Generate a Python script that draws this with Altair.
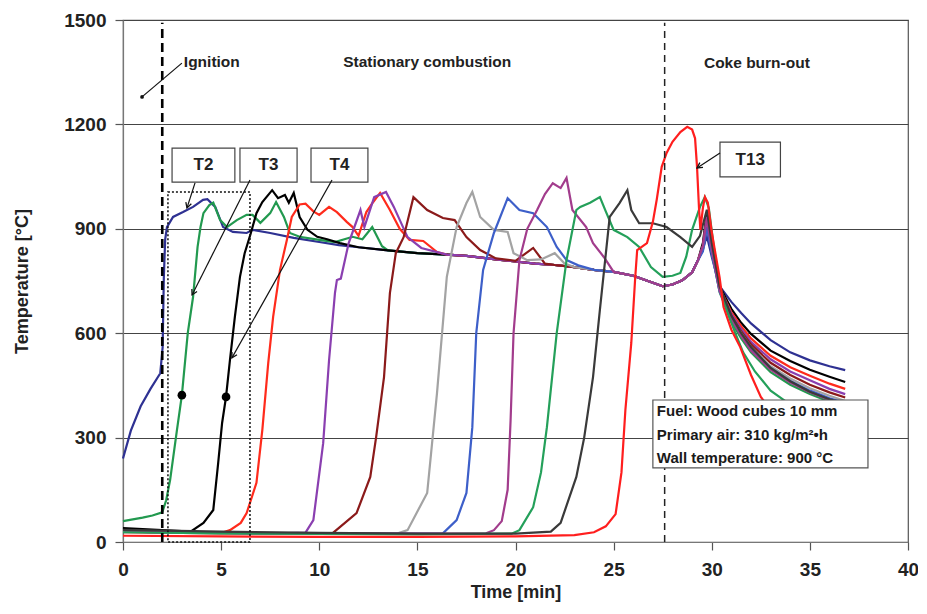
import math
import altair as alt
import pandas as pd

FONT = "Liberation Sans"

SERIES = ["T2", "T3", "T4", "T5", "T6", "T7", "T8", "T9", "T10", "T11", "T12", "T13"]
COLORS = ["#2E3192", "#22994F", "#000000", "#FF2B1C", "#8A3FB0", "#8B1A1A",
          "#A3A3A3", "#3D5FC9", "#A23C8C", "#24A05A", "#3A3A3A", "#FF1E1E"]

# shared stationary-combustion plateau (all thermocouples merge onto it)
COMMON_T = [5.6, 6.3, 6.6, 7.5, 8.7, 10.0, 11.0, 12.0, 13.5, 15.0, 16.5, 17.5, 19.0, 20.0,
            21.0, 22.0, 23.0, 24.0, 25.0, 26.0, 27.0, 27.5, 28.0, 28.5, 29.0, 29.3]
COMMON_V = [891, 888, 897, 888, 874, 862, 853, 847, 838, 830, 826, 822, 812, 806,
            800, 796, 790, 782, 776, 765, 745, 735, 740, 752, 775, 810]

# coke burn-out peak and cooling
TAIL_T = [29.55, 29.75, 30.0, 30.4, 31.0, 31.5, 32.0, 33.0, 34.0, 35.0, 36.0, 36.8]

T2_T = [0, 0.4, 0.9, 1.4, 1.9, 2.02, 2.08, 2.15, 2.24, 2.55, 3.06, 3.57, 4.08, 4.3, 4.7, 5.1]
T2_V = [240, 320, 390, 440, 485, 560, 760, 870, 905, 934, 948, 963, 983, 985, 963, 905]
T2_TAIL = [840, 880, 820, 735, 690, 658, 628, 580, 545, 522, 505, 494]

T3_T = [0, 0.5, 1.0, 1.5, 2.0, 2.2, 2.4, 2.75, 3.0, 3.3, 3.57, 3.8, 3.95, 4.1, 4.4, 4.6, 4.95,
        5.3, 5.8, 6.3, 6.6, 7.0, 7.5, 7.8, 8.2, 8.5, 9.0, 10.0, 10.8, 11.7, 12.2, 12.7, 13.2]
T3_V = [60, 65, 70, 76, 85, 120, 178, 322, 422, 600, 704, 848, 905, 945, 968, 975, 925,
        905, 925, 940, 940, 917, 945, 977, 934, 888, 877, 868, 862, 877, 870, 905, 850]
T3_TAIL = [845, 920, 835, 718, 632, 585, 545, 488, 452, 425, 403, 390]

T4_T = [0, 1, 2, 3, 3.5, 4.1, 4.6, 4.85, 5.05, 5.25, 5.45, 5.7, 5.96, 6.2, 6.5, 6.8, 7.1,
        7.6, 7.9, 8.25, 8.45, 8.7, 9.0, 9.4, 9.9, 10.4, 11.05]
T4_V = [40, 37, 34, 31, 32, 55, 92, 227, 342, 417, 523, 647, 762, 830, 885, 945, 977,
        1011, 988, 997, 975, 1003, 934, 897, 877, 870, 859]
T4_TAIL = [860, 948, 860, 735, 670, 630, 598, 550, 520, 495, 475, 460]

T5_T = [0, 2, 4, 5.0, 5.45, 6.0, 6.3, 6.8, 7.1, 7.4, 7.65, 8.0, 8.35, 8.6, 9.0, 9.3, 9.7,
        10.0, 10.5, 10.9, 11.4, 11.7, 12.0, 12.4, 12.75, 13.1, 13.6, 14.1, 14.6, 15.3, 16.0]
T5_V = [30, 28, 26, 26, 34, 55, 83, 170, 322, 514, 647, 782, 868, 934, 970, 972, 950,
        940, 963, 948, 920, 905, 880, 948, 977, 1003, 954, 900, 868, 865, 833]
T5_TAIL = [850, 930, 850, 730, 660, 620, 585, 535, 502, 478, 455, 440]

T6_T = [0, 4, 8, 9.3, 9.7, 10.2, 10.5, 10.8, 10.9, 11.1, 11.5, 12.1, 12.3, 12.8, 13.4, 13.8,
        14.5, 15.2]
T6_V = [30, 27, 25, 27, 63, 284, 523, 715, 753, 757, 859, 954, 905, 991, 1006, 963, 876, 845]
T6_TAIL = [850, 935, 845, 728, 655, 612, 575, 525, 490, 465, 440, 425]

T7_T = [0, 5, 10, 10.7, 11.9, 12.6, 12.9, 13.3, 13.6, 13.9, 14.3, 14.8, 15.5, 16.3, 16.9,
        17.5, 18.2, 19.0, 20.0, 20.9, 21.5]
T7_V = [28, 25, 24, 26, 83, 187, 302, 474, 715, 830, 876, 991, 954, 931, 925, 876, 839,
        815, 808, 845, 800]
T7_TAIL = [845, 925, 840, 725, 650, 605, 568, 515, 480, 452, 430, 415]

T8_T = [0, 5, 10, 14.0, 14.5, 15.5, 16.0, 16.5, 17.0, 17.5, 17.8, 18.2, 18.9, 19.6, 19.9,
        20.6, 21.3, 22.0, 22.5]
T8_V = [30, 26, 24, 25, 34, 141, 428, 762, 905, 974, 1006, 934, 897, 891, 830, 810, 812,
        830, 800]
T8_TAIL = [840, 910, 835, 722, 645, 600, 560, 505, 470, 442, 420, 405]

T9_T = [0, 5, 10, 16.3, 17.0, 17.5, 17.8, 18.0, 18.35, 18.9, 19.6, 20.2, 20.9, 21.6, 22.1,
        22.6, 23.2]
T9_V = [30, 26, 24, 25, 63, 141, 330, 600, 782, 888, 988, 954, 945, 905, 848, 810, 795]
T9_TAIL = [835, 905, 830, 720, 640, 595, 555, 500, 463, 435, 413, 400]

T10_T = [0, 5, 10, 18.5, 18.9, 19.3, 19.6, 19.75, 19.9, 20.2, 20.6, 21.1, 21.5, 21.9, 22.3,
         22.6, 22.9, 23.6, 23.95, 24.5]
T10_V = [30, 26, 24, 25, 34, 60, 150, 350, 600, 810, 900, 954, 1000, 1031, 1017, 1046,
         954, 905, 859, 819]
T10_TAIL = [850, 930, 840, 722, 640, 592, 550, 495, 458, 430, 408, 395]

T11_T = [0, 5, 10, 15, 19.8, 20.2, 20.9, 21.3, 21.6, 22.1, 22.6, 23.1, 23.3, 23.8, 24.3,
         24.6, 25.0, 25.7, 26.3, 26.9, 27.5, 28.0, 28.4, 28.7, 29.0, 29.4, 29.65, 29.85,
         30.1, 30.4, 30.8, 31.2, 31.6, 32.2, 33.0, 34.0, 35.0, 36.0, 36.8]
T11_V = [28, 25, 23, 22, 24, 34, 100, 200, 330, 600, 810, 954, 963, 975, 991,
         950, 897, 876, 848, 790, 762, 765, 773, 820, 897, 963, 991, 960,
         850, 740, 660, 600, 545, 490, 435, 395, 370, 350, 340]

T12_T = [0, 5, 10, 15, 20, 21.8, 22.3, 23.1, 23.5, 23.95, 24.3, 24.8, 25.3, 25.7, 25.9,
         26.3, 27.0, 27.7, 28.4, 29.0, 29.4, 29.75, 30.0, 30.4, 31.0, 31.5, 32.0, 33.0,
         34.0, 35.0, 36.0, 36.8]
T12_V = [35, 30, 26, 24, 24, 30, 55, 187, 300, 474, 667, 934, 974, 1011, 954,
         916, 916, 905, 876, 848, 880, 955, 860, 735, 650, 600, 560, 500,
         462, 432, 410, 398]

T13_T = [0, 5, 10, 15, 20, 23.0, 24.0, 24.6, 25.1, 25.4, 25.6, 25.9, 26.1, 26.2, 26.7,
         27.0, 27.2, 27.45, 27.7, 28.0, 28.4, 28.75, 29.0, 29.15, 29.25, 29.35, 29.42,
         29.55, 29.65, 29.8, 30.0, 30.4, 30.6, 31.0, 31.45, 32.0, 32.5, 33.0, 34.0,
         35.0, 36.0, 36.8]
T13_V = [18, 16, 15, 15, 16, 20, 28, 45, 80, 200, 380, 572, 760, 839, 859,
         920, 985, 1078, 1118, 1150, 1178, 1193, 1185, 1160, 1078, 960, 897,
         960, 991, 975, 890, 760, 675, 610, 560, 480, 417, 380, 340,
         315, 300, 290]

# annotations
PHASE_LABELS = ["Ignition", "Stationary combustion", "Coke burn-out"]
PHASE_X = [3.1, 15.5, 32.3]
PHASE_Y = [1380, 1378, 1376]
PHASE_ALIGN = ["left", "center", "center"]

LABEL_TEXT = ["T2", "T3", "T4", "T13"]
LABEL_X0 = [2.5, 5.96, 9.58, 30.42]
LABEL_X1 = [5.7, 8.87, 12.48, 33.5]
LABEL_Y0 = [1034, 1034, 1034, 1049]
LABEL_Y1 = [1132, 1132, 1132, 1149]
ARROW_X0 = [3.67, 6.47, 10.65, 30.42]
ARROW_Y0 = [1032, 1040, 1040, 1118]
ARROW_X1 = [3.26, 3.52, 5.55, 29.25]
ARROW_Y1 = [960, 710, 529, 1075]

DOT_X = [3.0, 5.25]
DOT_Y = [422, 417]

INFO_LINES = ["Fuel: Wood cubes 10 mm", "Primary air: 310 kg/m\u00b2\u2022h",
              "Wall temperature: 900 \u00b0C"]
INFO_Y = [376, 308, 242]
INFO_BOX = [27.0, 37.96, 213, 408]

IGN_X = 2.0
BURN_X = 27.6
DOT_RECT = [2.29, 6.47, 0, 1006]
IGN_POINTER = [0.97, 1279, 3.0, 1376]

W, H = 785, 522
PX_PER_MIN = W / 40.0
PX_PER_DEG = H / 1500.0


def build(head_t, head_v, tail_v=None):
    ts, vs = list(head_t), list(head_v)
    if tail_v is not None:
        last = ts[-1]
        for t, v in zip(COMMON_T, COMMON_V):
            if t > last + 0.2:
                ts.append(t)
                vs.append(v)
        ts += TAIL_T
        vs += tail_v
    return ts, vs


curves = [
    build(T2_T, T2_V, T2_TAIL), build(T3_T, T3_V, T3_TAIL), build(T4_T, T4_V, T4_TAIL),
    build(T5_T, T5_V, T5_TAIL), build(T6_T, T6_V, T6_TAIL), build(T7_T, T7_V, T7_TAIL),
    build(T8_T, T8_V, T8_TAIL), build(T9_T, T9_V, T9_TAIL), build(T10_T, T10_V, T10_TAIL),
    build(T11_T, T11_V), build(T12_T, T12_V), build(T13_T, T13_V),
]

xaxis = alt.Axis(title="Time [min]", values=list(range(0, 41, 5)), grid=False, format="d",
                 tickSize=8, labelPadding=10, titlePadding=4, labelFlush=False)
yaxis = alt.Axis(title="Temperature [\u00b0C]", values=list(range(0, 1501, 300)), grid=True,
                 format="d", tickSize=8, labelPadding=9, titlePadding=32, labelFlush=False)
xs = alt.Scale(domain=[0, 40], nice=False, zero=False)
ys = alt.Scale(domain=[0, 1500], nice=False, zero=False)


def X(f):
    return alt.X(f, type="quantitative", scale=xs, axis=xaxis)


def Y(f):
    return alt.Y(f, type="quantitative", scale=ys, axis=yaxis)


layers = []

for name, color, (ts, vs) in zip(SERIES, COLORS, curves):
    df = pd.DataFrame({"t": ts, "v": vs, "i": list(range(len(ts))), "s": name})
    layers.append(alt.Chart(df).mark_line(color=color, strokeWidth=2.2).encode(
        x=X("t"), y=Y("v"), order=alt.Order("i:Q")))

# vertical phase lines
vl = pd.DataFrame({"x": [IGN_X], "y0": [0], "y1": [1492]})
layers.append(alt.Chart(vl).mark_rule(color="black", strokeWidth=2.6, strokeDash=[9, 5]).encode(
    x=X("x"), y=Y("y0"), y2="y1"))
bl = pd.DataFrame({"x": [BURN_X], "y0": [0], "y1": [1492]})
layers.append(alt.Chart(bl).mark_rule(color="#222", strokeWidth=1.5, strokeDash=[7, 5]).encode(
    x=X("x"), y=Y("y0"), y2="y1"))

# dotted rectangle
dr = pd.DataFrame({"x0": [DOT_RECT[0]], "x1": [DOT_RECT[1]], "y0": [DOT_RECT[2]], "y1": [DOT_RECT[3]]})
layers.append(alt.Chart(dr).mark_rect(fillOpacity=0, stroke="#111", strokeWidth=1.5,
                                      strokeDash=[2, 2]).encode(
    x=X("x0"), x2="x1", y=Y("y0"), y2="y1"))

# ignition pointer
ip = pd.DataFrame({"x0": [IGN_POINTER[0]], "y0": [IGN_POINTER[1]],
                   "x1": [IGN_POINTER[2]], "y1": [IGN_POINTER[3]]})
layers.append(alt.Chart(ip).mark_rule(color="#111", strokeWidth=1.2).encode(
    x=X("x0"), y=Y("y0"), x2="x1", y2="y1"))
layers.append(alt.Chart(ip).mark_point(filled=True, color="#111", size=14, opacity=1).encode(
    x=X("x0"), y=Y("y0")))

# phase labels
ph = pd.DataFrame({"x": PHASE_X, "y": PHASE_Y, "txt": PHASE_LABELS, "al": PHASE_ALIGN})
for al in ["left", "center"]:
    sub = ph[ph["al"] == al]
    layers.append(alt.Chart(sub).mark_text(font=FONT, fontWeight="bold", fontSize=15.5,
                                           color="#222", align=al, baseline="middle").encode(
        x=X("x"), y=Y("y"), text="txt:N"))

# label boxes
lb = pd.DataFrame({"x0": LABEL_X0, "x1": LABEL_X1, "y0": LABEL_Y0, "y1": LABEL_Y1,
                   "txt": LABEL_TEXT,
                   "xc": [(a + b) / 2 for a, b in zip(LABEL_X0, LABEL_X1)],
                   "yc": [(a + b) / 2 for a, b in zip(LABEL_Y0, LABEL_Y1)]})
layers.append(alt.Chart(lb).mark_rect(fill="white", stroke="#444", strokeWidth=1.2).encode(
    x=X("x0"), x2="x1", y=Y("y0"), y2="y1"))
layers.append(alt.Chart(lb).mark_text(font=FONT, fontWeight="bold", fontSize=17, color="#222",
                                      align="center", baseline="middle").encode(
    x=X("xc"), y=Y("yc"), text="txt:N"))

# arrows
angles = []
for x0, y0, x1, y1 in zip(ARROW_X0, ARROW_Y0, ARROW_X1, ARROW_Y1):
    dx = (x1 - x0) * PX_PER_MIN
    dy = -(y1 - y0) * PX_PER_DEG
    angles.append(math.degrees(math.atan2(dx, -dy)) % 360)
ar = pd.DataFrame({"x0": ARROW_X0, "y0": ARROW_Y0, "x1": ARROW_X1, "y1": ARROW_Y1, "ang": angles})
layers.append(alt.Chart(ar).mark_rule(color="#111", strokeWidth=1.2).encode(
    x=X("x0"), y=Y("y0"), x2="x1", y2="y1"))
layers.append(alt.Chart(ar).mark_point(shape="M -0.55 1 L 0 0 L 0.55 1", filled=False,
                                       stroke="#111", strokeWidth=1.3, size=110, opacity=1).encode(
    x=X("x1"), y=Y("y1"), angle=alt.Angle("ang:Q", scale=None)))

# data dots
dd = pd.DataFrame({"x": DOT_X, "y": DOT_Y})
layers.append(alt.Chart(dd).mark_point(filled=True, color="black", size=75, opacity=1).encode(
    x=X("x"), y=Y("y")))

# info box
ib = pd.DataFrame({"x0": [INFO_BOX[0]], "x1": [INFO_BOX[1]], "y0": [INFO_BOX[2]], "y1": [INFO_BOX[3]]})
layers.append(alt.Chart(ib).mark_rect(fill="white", stroke="#555", strokeWidth=1.2).encode(
    x=X("x0"), x2="x1", y=Y("y0"), y2="y1"))
it = pd.DataFrame({"x": [INFO_BOX[0] + 0.2] * 3, "y": INFO_Y, "txt": INFO_LINES})
layers.append(alt.Chart(it).mark_text(font=FONT, fontWeight="bold", fontSize=15, color="#1a1a1a",
                                      align="left", baseline="middle").encode(
    x=X("x"), y=Y("y"), text="txt:N"))

chart = alt.layer(*layers).properties(
    width=W, height=H,
    autosize=alt.AutoSizeParams(type="none"),
    padding={"left": 115, "top": 12, "right": 10, "bottom": 64},
    background="white",
).configure_view(
    stroke="#555", strokeWidth=1.2
).configure_axis(
    labelFont=FONT, labelFontSize=19, labelFontWeight="bold", labelColor="#222",
    titleFont=FONT, titleFontSize=18, titleFontWeight="bold", titleColor="#222",
    domainColor="#777", domainWidth=1.2, tickColor="#555", tickWidth=1.2,
    gridColor="#444", gridWidth=1.1,
)

chart.save("out.html", embed_options={"renderer": "svg", "actions": False})
